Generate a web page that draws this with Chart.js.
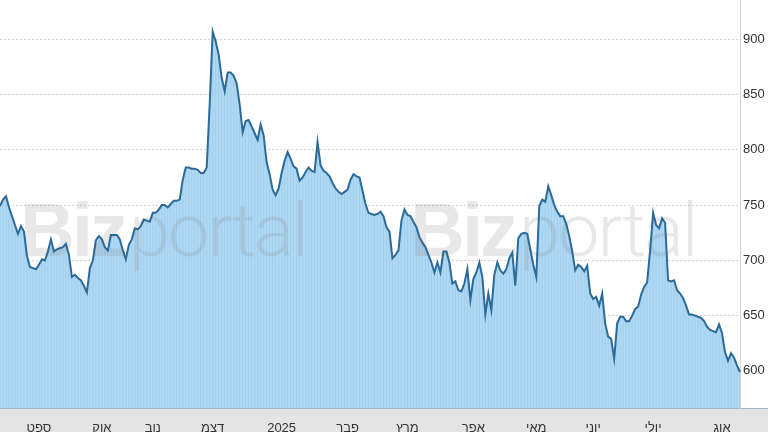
<!DOCTYPE html>
<html lang="he">
<head>
<meta charset="utf-8">
<script src="https://cdn.jsdelivr.net/npm/chart.js@4.4.1/dist/chart.umd.min.js"></script>
<style>
    html, body { margin: 0; padding: 0; background: #fff; }
    #wrap { width: 768px; height: 432px; position: relative; }
</style>
</head>
<body>
<div id="wrap"><canvas id="priceChart"></canvas></div>
<script>
// daily closing prices, Aug 2024 - Aug 2025
const prices = [
    749, 755, 758, 748, 740, 732, 724, 731, 726, 704, 694, 693, 692, 696, 701, 700, 708, 719, 708, 710,
    711, 712, 715, 705, 685, 687, 684, 682, 677, 671, 693, 700, 718, 722, 719, 712, 709, 723, 723, 723,
    719, 709, 701, 714, 719, 729, 728, 731, 737, 736, 735, 743, 743, 746, 750, 750, 748, 751, 754, 754,
    755, 773, 784, 784, 783, 783, 782, 779, 779, 784, 842, 907, 898, 886, 865, 853, 870, 870, 867, 860,
    841, 816, 826, 827, 821, 815, 809, 823, 813, 789, 778, 764, 759, 765, 779, 790, 798, 792, 785, 783,
    772, 775, 780, 784, 781, 780, 807, 786, 781, 779, 776, 770, 765, 762, 760, 762, 764, 773, 778, 776,
    775, 763, 751, 743, 742, 741, 742, 744, 740, 730, 726, 702, 705, 709, 736, 746, 741, 740, 735, 730,
    721, 716, 712, 705, 698, 689, 698, 689, 708, 708, 698, 679, 681, 673, 672, 679, 692, 664, 683, 689,
    698, 685, 651, 670, 655, 687, 698, 691, 688, 692, 702, 707, 677, 720, 724, 725, 724, 710, 696, 685,
    749, 755, 753, 767, 759, 750, 744, 740, 740, 733, 722, 708, 691, 696, 694, 690, 695, 670, 665, 667,
    659, 670, 643, 631, 629, 611, 643, 649, 649, 645, 645, 650, 656, 658, 669, 676, 680, 709, 743, 732,
    729, 738, 734, 682, 681, 682, 673, 670, 666, 659, 651, 651, 650, 649, 648, 645, 640, 637, 636, 635,
    642, 634, 617, 609, 616, 612, 605, 599
];

const monthNames = ['ספט', 'אוק', 'נוב', 'דצמ', '2025', 'פבר', 'מרץ', 'אפר', 'מאי', 'יוני', 'יולי', 'אוג'];
const monthIndex = [13, 34, 51, 71, 94, 116, 136, 158, 179, 198, 218, 241];
const yTicks = [600, 650, 700, 750, 800, 850, 900];
const yMin = 566.4;
const yMax = 935.6;

const labels = prices.map((_, i) => {
    const k = monthIndex.indexOf(i);
    return k >= 0 ? monthNames[k] : '';
});

const bottomBand = {
    id: 'bottomBand',
    beforeDraw(chart) {
        const { ctx, chartArea, width, height } = chart;
        ctx.save();
        ctx.fillStyle = '#ffffff';
        ctx.fillRect(0, 0, width, height);
        ctx.fillStyle = '#e4e4e4';
        ctx.fillRect(0, chartArea.bottom, width, height - chartArea.bottom);
        ctx.strokeStyle = '#9fb3c2';
        ctx.lineWidth = 1;
        ctx.beginPath();
        ctx.moveTo(0, chartArea.bottom + 0.5);
        ctx.lineTo(width, chartArea.bottom + 0.5);
        ctx.stroke();
        ctx.restore();
    }
};

const watermark = {
    id: 'watermark',
    afterDatasetDraw(chart, args) {
        if (args.index !== 1) return;
        const ctx = chart.ctx;
        ctx.save();
        ctx.fillStyle = 'rgba(140,140,140,0.2)';
        ctx.textBaseline = 'alphabetic';
        [20, 410, 763].forEach(x0 => {
            ctx.font = 'bold 76px "Liberation Sans", Arial, sans-serif';
            ctx.letterSpacing = '-3px';
            ctx.fillText('Biz', x0, 256);
            const w = ctx.measureText('Biz').width;
            ctx.font = '300 74px Roboto, "Liberation Sans", sans-serif';
            ctx.letterSpacing = '-2px';
            ctx.fillText('portal', x0 + w + 4, 256);
        });
        ctx.restore();
    }
};

new Chart(document.getElementById('priceChart'), {
    data: {
        labels: labels,
        datasets: [{
            type: 'line',
            data: prices,
            order: 0,
            borderColor: '#2b6a99',
            borderWidth: 2,
            backgroundColor: '#b0d9f3',
            fill: 'start',
            pointRadius: 0,
            tension: 0
        }, {
            type: 'bar',
            data: prices,
            order: 1,
            base: yMin,
            backgroundColor: '#a3cfee',
            barPercentage: 0.4,
            categoryPercentage: 1
        }]
    },
    options: {
        responsive: true,
        maintainAspectRatio: false,
        animation: false,
        layout: { padding: 0 },
        plugins: {
            legend: { display: false },
            tooltip: { enabled: false },
            filler: { drawTime: 'beforeDatasetsDraw' }
        },
        scales: {
            x: {
                type: 'category',
                offset: false,
                grid: { display: false },
                border: { display: false },
                ticks: {
                    autoSkip: false,
                    maxRotation: 0,
                    padding: 5,
                    color: '#333',
                    font: { family: '"Liberation Sans", Arial, sans-serif', size: 13 }
                },
                afterBuildTicks: scale => {
                    scale.ticks = monthIndex.map(i => ({ value: i }));
                },
                afterFit: scale => {
                    scale.height = 24;
                    scale.paddingLeft = 0;
                    scale.paddingRight = 0;
                }
            },
            y: {
                position: 'right',
                min: yMin,
                max: yMax,
                grid: { color: '#cfd3da', lineWidth: 1, drawTicks: false },
                border: { display: true, color: '#d2d2d2', dash: [2, 2] },
                ticks: {
                    padding: 3,
                    color: '#333',
                    font: { family: '"Liberation Sans", Arial, sans-serif', size: 13 }
                },
                afterBuildTicks: scale => {
                    scale.ticks = yTicks.map(v => ({ value: v }));
                },
                afterFit: scale => {
                    scale.width = 28;
                    scale.paddingTop = 0;
                    scale.paddingBottom = 0;
                }
            }
        }
    },
    plugins: [bottomBand, watermark]
});
</script>
</body>
</html>
